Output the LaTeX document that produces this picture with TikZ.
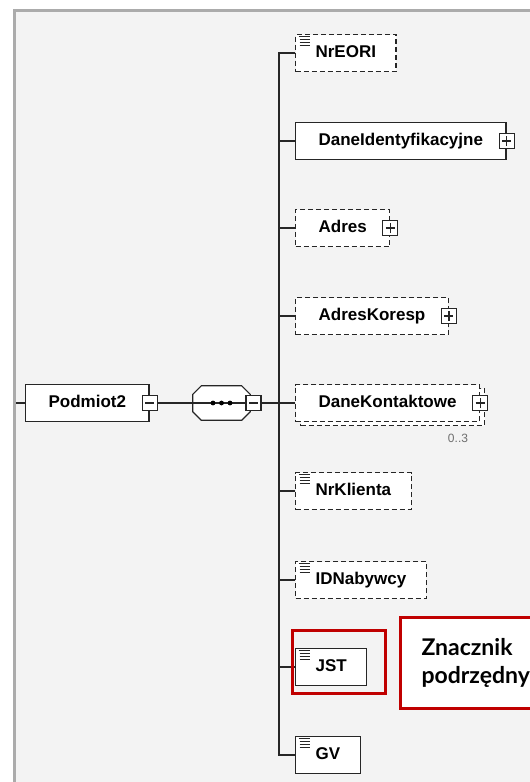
\documentclass[tikz,border=0pt]{standalone}
\usepackage{fontspec}
\usepackage{xcolor}
\usepackage{tikz}
\usetikzlibrary{positioning,shadows}
\newfontfamily\xsdfont{Liberation Sans}
\newfontfamily\notefont{Lato}
\definecolor{bggray}{HTML}{F3F3F3}
\definecolor{framegray}{HTML}{ABABAB}
\definecolor{occgray}{HTML}{6E6E6E}
\definecolor{markred}{HTML}{C00000}

\begin{document}
\begin{tikzpicture}[x=1pt, y=-1pt,
    wire/.style={line width=1.3pt, draw=black!85},
    el/.style={draw=black!85, fill=white, line width=1.2pt, anchor=west, minimum height=37pt, inner xsep=20pt,
        text height=12.5pt, text depth=3.5pt, font=\xsdfont\bfseries\fontsize{17}{20}\selectfont},
    opt/.style={el, dash pattern=on 5pt off 3pt},
    cplx/.style={inner xsep=23pt},
    simple/.style={path picture={\draw[solid, line width=0.9pt]
        ([shift={(3pt,-2pt)}]path picture bounding box.north west) -- ++(11pt,0pt)
        ([shift={(4pt,-5pt)}]path picture bounding box.north west) -- ++(10pt,0pt)
        ([shift={(4pt,-8pt)}]path picture bounding box.north west) -- ++(10pt,0pt)
        ([shift={(4pt,-11pt)}]path picture bounding box.north west) -- ++(10pt,0pt);}},
    pmbox/.style={draw=black!85, fill=white, line width=1.2pt, minimum size=15pt, inner sep=0pt},
    minus/.style={pmbox, path picture={\draw[line width=1.1pt]
        ([xshift=-4.5pt]path picture bounding box.center) -- ([xshift=4.5pt]path picture bounding box.center);}},
    plus/.style={pmbox, path picture={\draw[line width=1.1pt]
        ([xshift=-4.5pt]path picture bounding box.center) -- ([xshift=4.5pt]path picture bounding box.center)
        ([yshift=-5pt]path picture bounding box.center) -- ([yshift=5pt]path picture bounding box.center);}},
    note/.style={draw=markred, line width=3pt, fill=white, anchor=west, minimum height=91pt, text width=170pt,
        inner xsep=21pt, align=left, font=\notefont\bfseries\fontsize{23}{28}\selectfont}]
    \path[use as bounding box] (0,0) rectangle (530,782);
    \clip (0,0) rectangle (530,782);
    \fill[white] (0,0) rectangle (530,782);
    \fill[bggray] (14,10) rectangle (540,790);
    \draw[framegray, line width=2.8pt] (14.8,790) -- (14.8,10.5) -- (540,10.5);

    \node[el, cplx] (podmiot) at (25,403) {Podmiot2};
    \node[minus] (podmiotpm) at (podmiot.east) {};
    \node[minimum width=57pt, minimum height=34pt, inner sep=0pt] (seq) at (221.5,403) {};
    \draw[line width=1.2pt, draw=black!85, fill=white]
        ([xshift=8.5pt]seq.north west) -- ([xshift=-8.5pt]seq.north east) -- ([yshift=-8.5pt]seq.north east)
        -- ([yshift=8.5pt]seq.south east) -- ([xshift=-8.5pt]seq.south east) -- ([xshift=8.5pt]seq.south west)
        -- ([yshift=8.5pt]seq.south west) -- ([yshift=-8.5pt]seq.north west) -- cycle;
    \node[minus] (seqpm) at (253.5,403) {};

    \node[opt, simple] (nreori) at (295,53) {NrEORI};
    \node[el, cplx] (daneident) at (295,141) {DaneIdentyfikacyjne};
    \node[plus] (daneidentpm) at (daneident.east) {};
    \node[opt, cplx] (adres) at (295,228) {Adres};
    \node[plus] (adrespm) at (adres.east) {};
    \node[opt, cplx] (adreskor) at (295,316) {AdresKoresp};
    \node[plus] (adreskorpm) at (adreskor.east) {};
    \node[opt, cplx, copy shadow={shadow xshift=5pt, shadow yshift=-4pt}] (danekont) at (295,403) {DaneKontaktowe};
    \node[plus] (danekontpm) at (danekont.east) {};
    \node[font=\xsdfont\fontsize{12}{14}\selectfont, text=occgray] (danekontocc) at (458,438) {0..3};
    \node[opt, simple] (nrklienta) at (295,491) {NrKlienta};
    \node[opt, simple] (idnabywcy) at (295,580) {IDNabywcy};
    \node[el, simple] (jst) at (295,667) {JST};
    \node[el, simple] (gv) at (295,755) {GV};

    \coordinate (frameedge) at (16,403);
    \draw[wire] (frameedge) -- (podmiot.west);
    \draw[wire] (podmiotpm.east) -- (seq.west);
    \draw[wire] (seq.west) -- (seqpm.west);
    \fill ([xshift=-8.5pt]seq.center) circle (2.4pt) (seq.center) circle (2.4pt) ([xshift=8.5pt]seq.center) circle (2.4pt);
    \draw[wire] (seqpm.east) -- (danekont.west);
    \draw[wire] (nreori.west) -- ++(-16,0) |- (gv.west);
    \draw[wire] (daneident.west) -- ++(-16,0);
    \draw[wire] (adres.west) -- ++(-16,0);
    \draw[wire] (adreskor.west) -- ++(-16,0);
    \draw[wire] (nrklienta.west) -- ++(-16,0);
    \draw[wire] (idnabywcy.west) -- ++(-16,0);
    \draw[wire] (jst.west) -- ++(-16,0);

    \draw[markred, line width=3pt] (292,630) rectangle (385,693);
    \node[note] (jstnote) at (399,662.5) {Znacznik\\podrzędny};
\end{tikzpicture}
\end{document}
